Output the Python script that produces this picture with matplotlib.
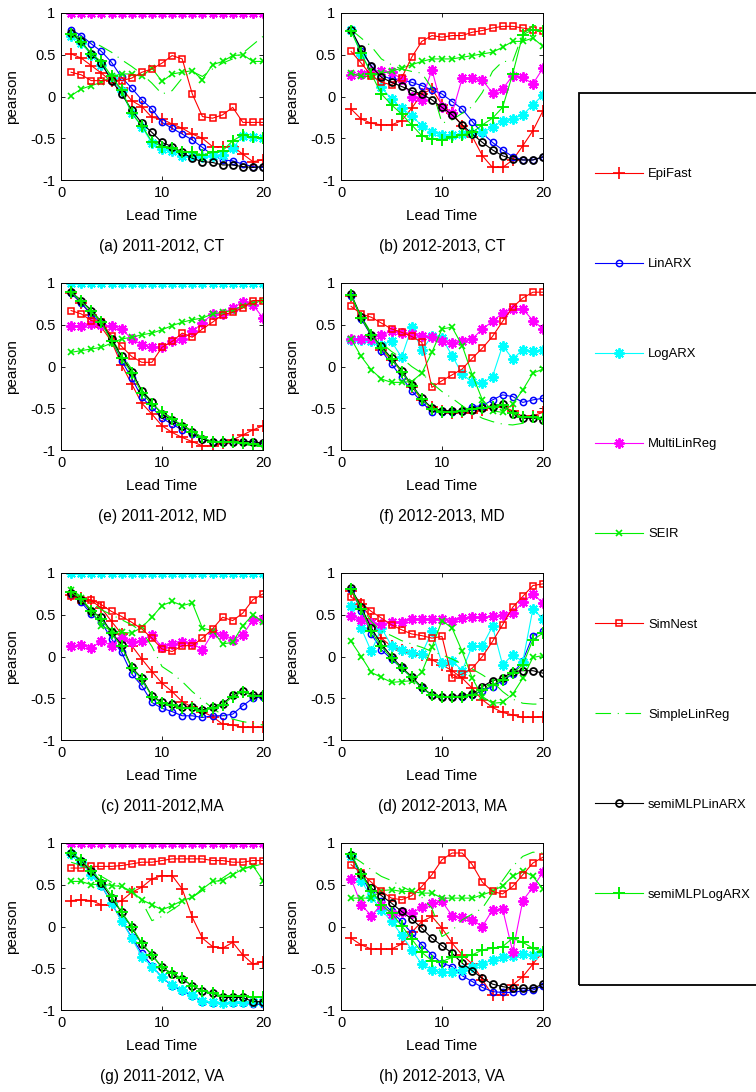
import numpy as np
import matplotlib
matplotlib.use("Agg")
import matplotlib.pyplot as plt
from matplotlib.patches import Rectangle
from matplotlib.lines import Line2D

plt.rcParams['font.family'] = ['Liberation Sans', 'DejaVu Sans']

lead = list(range(1, 21))
models = ['EpiFast', 'LinARX', 'LogARX', 'MultiLinReg', 'SEIR',
          'SimNest', 'SimpleLinReg', 'semiMLPLinARX', 'semiMLPLogARX']

# (a) 2011-2012, CT
a_epifast = [0.51, 0.46, 0.37, 0.28, 0.18, 0.10, -0.05, -0.12, -0.25, -0.27, -0.33, -0.38, -0.45, -0.50, -0.60, -0.60, -0.60, -0.69, -0.78, -0.76]
a_linarx = [0.80, 0.73, 0.63, 0.54, 0.41, 0.23, 0.10, -0.04, -0.15, -0.31, -0.38, -0.45, -0.52, -0.61, -0.70, -0.76, -0.77, -0.81, -0.84, -0.85]
a_logarx = [0.72, 0.64, 0.50, 0.38, 0.22, 0.06, -0.20, -0.36, -0.56, -0.63, -0.65, -0.71, -0.71, -0.72, -0.71, -0.70, -0.62, -0.47, -0.49, -0.50]
a_multilinreg = [1.0, 1.0, 1.0, 1.0, 1.0, 1.0, 1.0, 1.0, 1.0, 1.0, 1.0, 1.0, 1.0, 1.0, 1.0, 1.0, 1.0, 1.0, 1.0, 1.0]
a_seir = [0.01, 0.09, 0.13, 0.17, 0.24, 0.27, 0.27, 0.24, 0.34, 0.18, 0.27, 0.29, 0.31, 0.20, 0.38, 0.42, 0.49, 0.50, 0.42, 0.42]
a_simnest = [0.29, 0.26, 0.19, 0.19, 0.20, 0.19, 0.22, 0.29, 0.33, 0.40, 0.49, 0.45, 0.03, -0.24, -0.26, -0.22, -0.13, -0.31, -0.31, -0.31]
a_simplelinreg = [0.75, 0.70, 0.66, 0.60, 0.53, 0.44, 0.36, 0.27, 0.16, 0.03, 0.07, 0.22, 0.30, 0.24, 0.33, 0.40, 0.45, 0.52, 0.62, 0.72]
a_semilin = [0.76, 0.66, 0.51, 0.40, 0.19, 0.03, -0.16, -0.32, -0.43, -0.55, -0.60, -0.67, -0.74, -0.78, -0.79, -0.82, -0.82, -0.84, -0.85, -0.84]
a_semilog = [0.75, 0.65, 0.51, 0.42, 0.24, 0.08, -0.20, -0.35, -0.54, -0.60, -0.62, -0.66, -0.67, -0.70, -0.67, -0.65, -0.53, -0.46, -0.49, -0.50]

# (b) 2012-2013, CT
b_epifast = [-0.15, -0.27, -0.32, -0.34, -0.34, -0.29, -0.14, 0.03, 0.09, -0.10, -0.20, -0.35, -0.48, -0.71, -0.85, -0.85, -0.76, -0.59, -0.41, -0.17]
b_linarx = [0.80, 0.55, 0.37, 0.25, 0.21, 0.20, 0.17, 0.13, 0.08, 0.03, -0.06, -0.15, -0.30, -0.44, -0.55, -0.64, -0.72, -0.76, -0.76, -0.73]
b_logarx = [0.80, 0.50, 0.30, 0.11, -0.03, -0.14, -0.23, -0.35, -0.42, -0.46, -0.46, -0.45, -0.44, -0.43, -0.37, -0.29, -0.27, -0.22, -0.10, 0.02]
b_multilinreg = [0.26, 0.27, 0.31, 0.30, 0.29, 0.21, -0.01, -0.04, 0.32, -0.13, -0.20, 0.22, 0.22, 0.20, 0.04, 0.09, 0.25, 0.23, 0.15, 0.34]
b_seir = [0.28, 0.24, 0.24, 0.28, 0.30, 0.34, 0.38, 0.42, 0.45, 0.45, 0.45, 0.47, 0.49, 0.51, 0.53, 0.59, 0.66, 0.66, 0.70, 0.60]
b_simnest = [0.54, 0.40, 0.25, 0.17, 0.14, 0.22, 0.47, 0.66, 0.73, 0.71, 0.73, 0.73, 0.77, 0.79, 0.82, 0.84, 0.84, 0.82, 0.80, 0.78]
b_simplelinreg = [0.80, 0.70, 0.60, 0.45, 0.38, 0.33, 0.30, 0.28, 0.10, -0.32, -0.28, -0.20, -0.12, 0.05, 0.30, 0.42, 0.42, 0.75, 0.85, 0.84]
b_semilin = [0.80, 0.57, 0.36, 0.23, 0.17, 0.12, 0.07, 0.03, -0.04, -0.13, -0.22, -0.34, -0.45, -0.55, -0.64, -0.71, -0.75, -0.76, -0.76, -0.72]
b_semilog = [0.78, 0.52, 0.27, 0.03, -0.10, -0.21, -0.34, -0.47, -0.51, -0.52, -0.49, -0.46, -0.43, -0.34, -0.26, -0.13, 0.27, 0.74, 0.80, 0.78]

# (e) 2011-2012, MD
e_epifast = [0.88, 0.76, 0.62, 0.47, 0.30, 0.02, -0.21, -0.44, -0.57, -0.71, -0.79, -0.85, -0.90, -0.95, -0.95, -0.92, -0.88, -0.82, -0.76, -0.71]
e_linarx = [0.88, 0.76, 0.62, 0.52, 0.32, 0.07, -0.14, -0.37, -0.49, -0.62, -0.69, -0.76, -0.81, -0.87, -0.90, -0.90, -0.90, -0.90, -0.90, -0.92]
e_logarx = [1.0, 1.0, 1.0, 1.0, 1.0, 1.0, 1.0, 1.0, 1.0, 1.0, 1.0, 1.0, 1.0, 1.0, 1.0, 1.0, 1.0, 1.0, 1.0, 1.0]
e_multilinreg = [0.49, 0.49, 0.51, 0.50, 0.48, 0.45, 0.33, 0.26, 0.23, 0.23, 0.30, 0.33, 0.42, 0.52, 0.63, 0.63, 0.70, 0.77, 0.74, 0.58]
e_seir = [0.17, 0.19, 0.21, 0.23, 0.28, 0.33, 0.35, 0.38, 0.40, 0.44, 0.49, 0.53, 0.56, 0.58, 0.63, 0.65, 0.67, 0.73, 0.76, 0.79]
e_simnest = [0.67, 0.63, 0.55, 0.53, 0.37, 0.24, 0.12, 0.05, 0.05, 0.23, 0.30, 0.40, 0.35, 0.45, 0.53, 0.62, 0.65, 0.70, 0.79, 0.79]
e_simplelinreg = [0.89, 0.79, 0.67, 0.54, 0.34, 0.14, -0.03, -0.28, -0.42, -0.54, -0.62, -0.70, -0.77, -0.85, -0.89, -0.91, -0.92, -0.93, -0.95, -0.96]
e_semilin = [0.89, 0.79, 0.67, 0.53, 0.33, 0.12, -0.06, -0.29, -0.43, -0.57, -0.64, -0.71, -0.78, -0.87, -0.90, -0.90, -0.90, -0.90, -0.90, -0.92]
e_semilog = [0.89, 0.78, 0.66, 0.53, 0.30, 0.10, -0.08, -0.32, -0.45, -0.55, -0.63, -0.70, -0.78, -0.85, -0.90, -0.90, -0.91, -0.92, -0.93, -0.95]

# (f) 2012-2013, MD
f_epifast = [0.85, 0.58, 0.37, 0.20, 0.08, -0.06, -0.24, -0.40, -0.49, -0.53, -0.56, -0.55, -0.56, -0.52, -0.49, -0.48, -0.53, -0.60, -0.59, -0.55]
f_linarx = [0.85, 0.57, 0.37, 0.19, 0.03, -0.13, -0.29, -0.43, -0.54, -0.54, -0.54, -0.53, -0.48, -0.47, -0.40, -0.34, -0.36, -0.43, -0.40, -0.38]
f_logarx = [0.32, 0.32, 0.31, 0.26, 0.30, 0.11, 0.47, 0.20, 0.36, 0.34, 0.13, -0.09, -0.19, -0.20, -0.12, 0.25, 0.09, 0.20, 0.18, 0.20]
f_multilinreg = [0.33, 0.33, 0.33, 0.38, 0.42, 0.40, 0.39, 0.37, 0.35, 0.31, 0.28, 0.31, 0.33, 0.45, 0.54, 0.64, 0.69, 0.69, 0.55, 0.45]
f_seir = [0.33, 0.12, -0.04, -0.15, -0.19, -0.19, -0.18, -0.08, 0.17, 0.45, 0.47, 0.25, -0.10, -0.40, -0.53, -0.55, -0.45, -0.28, -0.08, -0.03]
f_simnest = [0.72, 0.63, 0.59, 0.52, 0.45, 0.41, 0.36, 0.29, -0.25, -0.17, -0.10, -0.03, 0.10, 0.22, 0.36, 0.54, 0.71, 0.82, 0.89, 0.89]
f_simplelinreg = [0.85, 0.60, 0.40, 0.28, 0.18, 0.10, 0.00, -0.08, -0.20, -0.30, -0.38, -0.47, -0.55, -0.62, -0.66, -0.69, -0.70, -0.68, -0.63, -0.60]
f_semilin = [0.87, 0.59, 0.38, 0.24, 0.10, -0.05, -0.22, -0.38, -0.50, -0.53, -0.53, -0.53, -0.52, -0.50, -0.48, -0.45, -0.57, -0.62, -0.62, -0.64]
f_semilog = [0.86, 0.58, 0.38, 0.22, 0.09, -0.06, -0.23, -0.39, -0.51, -0.54, -0.54, -0.53, -0.51, -0.50, -0.48, -0.46, -0.56, -0.61, -0.61, -0.63]

# (c) 2011-2012, MA
c_epifast = [0.74, 0.70, 0.67, 0.58, 0.42, 0.27, 0.13, -0.03, -0.18, -0.32, -0.42, -0.54, -0.61, -0.66, -0.72, -0.81, -0.82, -0.85, -0.85, -0.85]
c_linarx = [0.74, 0.65, 0.51, 0.41, 0.21, 0.05, -0.21, -0.35, -0.55, -0.62, -0.66, -0.71, -0.71, -0.73, -0.71, -0.71, -0.69, -0.59, -0.50, -0.48]
c_logarx = [1.0, 1.0, 1.0, 1.0, 1.0, 1.0, 1.0, 1.0, 1.0, 1.0, 1.0, 1.0, 1.0, 1.0, 1.0, 1.0, 1.0, 1.0, 1.0, 1.0]
c_multilinreg = [0.12, 0.14, 0.10, 0.19, 0.13, 0.22, 0.17, 0.19, 0.26, 0.11, 0.15, 0.17, 0.16, 0.08, 0.28, 0.26, 0.20, 0.26, 0.44, 0.45]
c_seir = [0.80, 0.70, 0.55, 0.37, 0.31, 0.29, 0.28, 0.35, 0.47, 0.61, 0.66, 0.61, 0.64, 0.34, 0.31, 0.15, 0.17, 0.37, 0.50, 0.41]
c_simnest = [0.73, 0.68, 0.68, 0.62, 0.54, 0.48, 0.41, 0.33, 0.22, 0.09, 0.06, 0.13, 0.13, 0.22, 0.33, 0.47, 0.43, 0.52, 0.68, 0.75]
c_simplelinreg = [0.80, 0.72, 0.64, 0.56, 0.50, 0.44, 0.38, 0.30, 0.12, -0.12, -0.20, -0.30, -0.42, -0.52, -0.62, -0.70, -0.75, -0.78, -0.80, -0.82]
c_semilin = [0.76, 0.68, 0.54, 0.47, 0.29, 0.14, -0.13, -0.26, -0.47, -0.55, -0.57, -0.61, -0.61, -0.64, -0.61, -0.57, -0.46, -0.41, -0.46, -0.46]
c_semilog = [0.77, 0.69, 0.55, 0.45, 0.28, 0.12, -0.14, -0.27, -0.48, -0.56, -0.58, -0.62, -0.62, -0.65, -0.62, -0.58, -0.48, -0.42, -0.47, -0.47]

# (d) 2012-2013, MA
d_epifast = [0.78, 0.63, 0.45, 0.22, 0.12, 0.08, 0.04, 0.02, -0.04, -0.10, -0.17, -0.26, -0.38, -0.52, -0.61, -0.67, -0.70, -0.73, -0.73, -0.72]
d_linarx = [0.80, 0.55, 0.27, 0.08, -0.03, -0.14, -0.25, -0.38, -0.46, -0.48, -0.49, -0.48, -0.46, -0.41, -0.36, -0.29, -0.21, -0.05, 0.25, 0.30]
d_logarx = [0.61, 0.34, 0.06, 0.34, 0.13, 0.08, 0.04, 0.03, 0.30, -0.08, -0.05, -0.17, 0.13, 0.13, 0.36, -0.10, 0.02, -0.06, 0.57, 0.45]
d_multilinreg = [0.48, 0.44, 0.40, 0.39, 0.41, 0.41, 0.45, 0.45, 0.45, 0.45, 0.43, 0.46, 0.47, 0.47, 0.48, 0.50, 0.52, 0.65, 0.75, 0.64]
d_seir = [0.18, 0.00, -0.19, -0.25, -0.31, -0.30, -0.29, -0.19, 0.11, 0.43, 0.34, 0.06, -0.26, -0.48, -0.56, -0.55, -0.45, -0.26, -0.01, 0.01]
d_simnest = [0.71, 0.64, 0.54, 0.46, 0.38, 0.32, 0.27, 0.25, 0.22, 0.24, -0.26, -0.21, -0.14, 0.00, 0.18, 0.38, 0.59, 0.72, 0.85, 0.87]
d_simplelinreg = [0.80, 0.60, 0.42, 0.30, 0.25, 0.19, 0.15, 0.11, 0.06, 0.02, -0.03, -0.09, -0.15, -0.22, -0.30, -0.42, -0.51, -0.56, -0.57, -0.57]
d_semilin = [0.82, 0.59, 0.34, 0.15, 0.00, -0.13, -0.24, -0.37, -0.46, -0.48, -0.48, -0.47, -0.45, -0.36, -0.29, -0.26, -0.18, -0.17, -0.17, -0.20]
d_semilog = [0.81, 0.57, 0.30, 0.12, -0.02, -0.14, -0.25, -0.38, -0.46, -0.48, -0.49, -0.48, -0.46, -0.40, -0.34, -0.28, -0.20, -0.10, 0.20, 0.28]

# (g) 2011-2012, VA
g_epifast = [0.31, 0.32, 0.31, 0.26, 0.26, 0.31, 0.41, 0.47, 0.57, 0.61, 0.61, 0.45, 0.11, -0.14, -0.24, -0.26, -0.19, -0.34, -0.45, -0.42]
g_linarx = [0.87, 0.78, 0.64, 0.49, 0.28, 0.07, -0.13, -0.32, -0.47, -0.61, -0.71, -0.77, -0.83, -0.90, -0.92, -0.92, -0.92, -0.92, -0.93, -0.93]
g_logarx = [0.87, 0.77, 0.62, 0.50, 0.28, 0.07, -0.14, -0.36, -0.48, -0.61, -0.70, -0.76, -0.82, -0.89, -0.91, -0.92, -0.91, -0.90, -0.91, -0.91]
g_multilinreg = [1.0, 1.0, 1.0, 1.0, 1.0, 1.0, 1.0, 1.0, 1.0, 1.0, 1.0, 1.0, 1.0, 1.0, 1.0, 1.0, 1.0, 1.0, 1.0, 1.0]
g_seir = [0.54, 0.54, 0.50, 0.51, 0.49, 0.48, 0.42, 0.32, 0.26, 0.20, 0.25, 0.31, 0.35, 0.45, 0.54, 0.55, 0.62, 0.69, 0.73, 0.55]
g_simnest = [0.70, 0.70, 0.72, 0.72, 0.72, 0.73, 0.75, 0.77, 0.77, 0.79, 0.81, 0.81, 0.81, 0.81, 0.79, 0.79, 0.77, 0.77, 0.79, 0.79]
g_simplelinreg = [0.77, 0.73, 0.67, 0.60, 0.53, 0.47, 0.41, 0.30, 0.07, 0.12, 0.20, 0.28, 0.35, 0.43, 0.50, 0.58, 0.66, 0.69, 0.72, 0.75]
g_semilin = [0.88, 0.79, 0.66, 0.52, 0.34, 0.17, -0.01, -0.21, -0.34, -0.49, -0.57, -0.63, -0.71, -0.77, -0.80, -0.85, -0.85, -0.85, -0.90, -0.90]
g_semilog = [0.88, 0.80, 0.67, 0.54, 0.37, 0.17, 0.00, -0.20, -0.34, -0.49, -0.56, -0.62, -0.71, -0.77, -0.80, -0.83, -0.83, -0.83, -0.85, -0.85]

# (h) 2012-2013, VA
h_epifast = [-0.14, -0.22, -0.27, -0.27, -0.27, -0.21, -0.07, 0.06, 0.12, -0.02, -0.20, -0.34, -0.45, -0.64, -0.82, -0.82, -0.70, -0.60, -0.45, -0.30]
h_linarx = [0.85, 0.60, 0.40, 0.30, 0.18, 0.06, -0.08, -0.22, -0.34, -0.44, -0.48, -0.59, -0.66, -0.73, -0.78, -0.79, -0.79, -0.77, -0.76, -0.71]
h_logarx = [0.85, 0.55, 0.35, 0.20, 0.06, -0.10, -0.28, -0.45, -0.52, -0.55, -0.55, -0.52, -0.48, -0.45, -0.40, -0.36, -0.35, -0.33, -0.34, -0.30]
h_multilinreg = [0.57, 0.26, 0.13, 0.26, 0.15, 0.17, 0.16, 0.23, 0.28, 0.30, 0.13, 0.11, 0.08, 0.00, 0.20, 0.21, -0.30, 0.31, 0.47, 0.65]
h_seir = [0.34, 0.34, 0.34, 0.43, 0.44, 0.42, 0.42, 0.40, 0.40, 0.34, 0.34, 0.34, 0.34, 0.38, 0.42, 0.49, 0.60, 0.67, 0.60, 0.45]
h_simnest = [0.74, 0.64, 0.53, 0.42, 0.34, 0.32, 0.37, 0.48, 0.62, 0.80, 0.88, 0.88, 0.74, 0.53, 0.42, 0.39, 0.48, 0.62, 0.76, 0.83]
h_simplelinreg = [0.85, 0.77, 0.68, 0.60, 0.55, 0.48, 0.42, 0.35, 0.22, -0.12, -0.05, 0.08, 0.15, 0.22, 0.40, 0.55, 0.72, 0.84, 0.89, 0.88]
h_semilin = [0.86, 0.63, 0.46, 0.37, 0.28, 0.18, 0.09, -0.02, -0.14, -0.23, -0.32, -0.44, -0.53, -0.62, -0.69, -0.72, -0.74, -0.74, -0.74, -0.69]
h_semilog = [0.87, 0.63, 0.43, 0.26, 0.16, 0.01, -0.15, -0.31, -0.41, -0.42, -0.37, -0.37, -0.34, -0.28, -0.26, -0.24, -0.14, -0.19, -0.26, -0.30]

panels = [
    ('(a) 2011-2012, CT', [a_epifast, a_linarx, a_logarx, a_multilinreg, a_seir, a_simnest, a_simplelinreg, a_semilin, a_semilog]),
    ('(b) 2012-2013, CT', [b_epifast, b_linarx, b_logarx, b_multilinreg, b_seir, b_simnest, b_simplelinreg, b_semilin, b_semilog]),
    ('(e) 2011-2012, MD', [e_epifast, e_linarx, e_logarx, e_multilinreg, e_seir, e_simnest, e_simplelinreg, e_semilin, e_semilog]),
    ('(f) 2012-2013, MD', [f_epifast, f_linarx, f_logarx, f_multilinreg, f_seir, f_simnest, f_simplelinreg, f_semilin, f_semilog]),
    ('(c) 2011-2012,MA', [c_epifast, c_linarx, c_logarx, c_multilinreg, c_seir, c_simnest, c_simplelinreg, c_semilin, c_semilog]),
    ('(d) 2012-2013, MA', [d_epifast, d_linarx, d_logarx, d_multilinreg, d_seir, d_simnest, d_simplelinreg, d_semilin, d_semilog]),
    ('(g) 2011-2012, VA', [g_epifast, g_linarx, g_logarx, g_multilinreg, g_seir, g_simnest, g_simplelinreg, g_semilin, g_semilog]),
    ('(h) 2012-2013, VA', [h_epifast, h_linarx, h_logarx, h_multilinreg, h_seir, h_simnest, h_simplelinreg, h_semilin, h_semilog]),
]

green = '#00f000'
asterisk = (8, 2, 0)
styles = [
    dict(color='#ff0000', marker='+', ms=8, mew=1.2, ls='-'),
    dict(color='#0000ff', marker='o', ms=4.5, mew=1.1, mfc='none', ls='-'),
    dict(color='#00ffff', marker=asterisk, ms=7.5, mew=1.4, ls='-'),
    dict(color='#ff00ff', marker=asterisk, ms=7.5, mew=1.4, ls='-'),
    dict(color=green, marker='x', ms=5, mew=1.2, ls='-'),
    dict(color='#ff0000', marker='s', ms=4.5, mew=1.1, mfc='none', ls='-'),
    dict(color=green, marker='None', ls=(0, (14, 6, 1, 6))),
    dict(color='#000000', marker='o', ms=5, mew=1.3, mfc='none', ls='-'),
    dict(color=green, marker='+', ms=8, mew=1.4, ls='-'),
]

W, H = 756, 1092
fig = plt.figure(figsize=(W / 100, H / 100), dpi=100)

col_left = [61, 341]
row_top = [13, 283, 573, 843]
ax_w, ax_h = 202, 167

for i, (caption, series) in enumerate(panels):
    r, c = divmod(i, 2)
    x0 = col_left[c] / W
    y0 = 1 - (row_top[r] + ax_h) / H
    ax = fig.add_axes([x0, y0, ax_w / W, ax_h / H])
    for vals, st in zip(series, styles):
        ax.plot(lead, vals, lw=0.8, **st)
    ax.set_xlim(0, 20)
    ax.set_ylim(-1, 1)
    ax.set_xticks([0, 10, 20])
    ax.set_xticklabels(['0', '10', '20'])
    ax.set_yticks([-1, -0.5, 0, 0.5, 1])
    ax.set_yticklabels(['-1', '-0.5', '0', '0.5', '1'])
    ax.tick_params(direction='in', top=True, right=True, length=3, width=0.6, labelsize=10.5, pad=4)
    for sp in ax.spines.values():
        sp.set_linewidth(0.7)
    ax.set_xlabel('Lead Time', fontsize=11, va='center')
    ax.xaxis.set_label_coords(0.5, -0.2156)
    ax.set_ylabel('pearson', fontsize=11, va='center')
    ax.yaxis.set_label_coords(-0.243, 0.5)
    ax.text(0.5, -0.401, caption, transform=ax.transAxes, ha='center', va='center', fontsize=11.2)

# legend box on the right
fig.add_artist(Rectangle((579 / W, 1 - 985 / H), 0.5, (985 - 93) / H,
                         transform=fig.transFigure, fill=False, ec='k', lw=1.3))
handles = [Line2D([], [], lw=0.8, **st) for st in styles]
fig.legend(handles, models, loc='upper left', bbox_to_anchor=(595 / W, 1 - 168 / H),
           frameon=False, fontsize=9.4, handlelength=3.68, handletextpad=0.38,
           labelspacing=5.97, borderpad=0, borderaxespad=0, numpoints=1)

fig.savefig('out.png', dpi=100)
